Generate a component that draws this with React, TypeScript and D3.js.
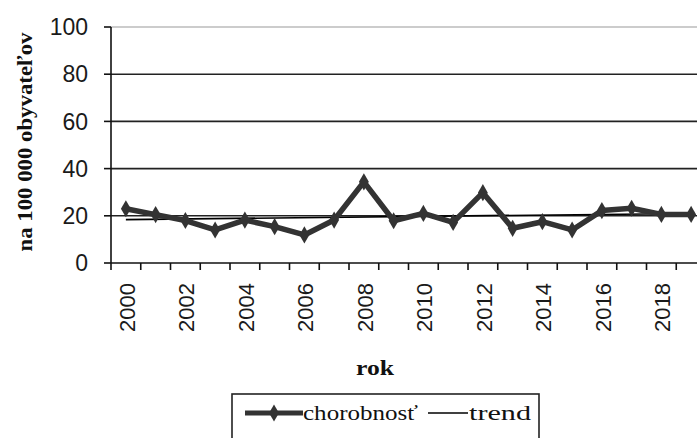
import * as d3 from 'd3';

const years = d3.range(2000, 2020).map(String);
const chorobnost = [23, 20.5, 18, 14, 18.2, 15.4, 11.9, 18.2, 34.4, 17.9, 21, 17.2, 29.8, 14.7, 17.5, 14, 22.2, 23.2, 20.6, 20.6];
const trendEnds = [18.4, 21.0];
const yTicks = [0, 20, 40, 60, 80, 100];
const xLabels = years.filter((_, i) => i % 2 === 0);

const width = 697;
const height = 438;
const left = 111;
const right = 706;
const top = 27;
const bottom = 263;

export default function App() {
  const x = d3.scaleBand<string>().domain(years).range([left, right]).padding(0);
  const y = d3.scaleLinear().domain([0, 100]).range([bottom, top]);
  const bw = x.bandwidth();
  const cx = (yr: string) => (x(yr) as number) + bw / 2;

  const line = d3
    .line<number>()
    .x((_, i) => cx(years[i]))
    .y((d) => y(d));

  const first = years[0];
  const last = years[years.length - 1];
  const diamond = d3.symbol(d3.symbolDiamond, 85)() ?? '';

  const serif = '"Liberation Serif", "Times New Roman", serif';
  const sans = '"Liberation Sans", Arial, sans-serif';

  return (
    <svg
      width={width}
      height={height}
      style={{ position: 'absolute', left: 0, top: 0, background: '#fff' }}>
      {/* grid */}
      {yTicks.slice(1).map((t) => (
        <line
          key={t}
          x1={left}
          x2={width}
          y1={y(t)}
          y2={y(t)}
          stroke={t === 100 ? '#999' : '#222'}
          strokeWidth={t === 100 ? 1.2 : 1.6}
        />
      ))}
      {/* y axis */}
      <line x1={left} x2={left} y1={top} y2={bottom} stroke="#111" strokeWidth={1.6} />
      {yTicks.map((t) => (
        <g key={t}>
          <line x1={left - 7} x2={left} y1={y(t)} y2={y(t)} stroke="#111" strokeWidth={1.6} />
          <text
            x={left - 23}
            y={y(t)}
            dy="0.36em"
            textAnchor="end"
            fontFamily={sans}
            fontSize={23}
            fill="#1a1a1a">
            {t}
          </text>
        </g>
      ))}
      {/* x axis */}
      <line x1={left} x2={width} y1={bottom} y2={bottom} stroke="#111" strokeWidth={1.6} />
      {d3.range(years.length + 1).map((i) => (
        <line
          key={i}
          x1={left + i * bw}
          x2={left + i * bw}
          y1={bottom}
          y2={bottom + 7}
          stroke="#111"
          strokeWidth={1.6}
        />
      ))}
      {xLabels.map((yr) => (
        <text
          key={yr}
          transform={`translate(${cx(yr) + 1},${283}) rotate(-90)`}
          textAnchor="end"
          dy="0.36em"
          fontFamily={sans}
          fontSize={22}
          fill="#1a1a1a">
          {yr}
        </text>
      ))}
      {/* trend */}
      <line
        x1={cx(first)}
        x2={cx(last)}
        y1={y(trendEnds[0])}
        y2={y(trendEnds[1])}
        stroke="#000"
        strokeWidth={1.6}
      />
      {/* series */}
      <path d={line(chorobnost) ?? ''} fill="none" stroke="#333" strokeWidth={5.5} strokeLinejoin="round" />
      {chorobnost.map((v, i) => (
        <path key={i} d={diamond} transform={`translate(${cx(years[i])},${y(v)})`} fill="#333" />
      ))}
      {/* axis titles */}
      <text
        transform={`translate(${32},${142}) rotate(-90)`}
        textAnchor="middle"
        fontFamily={serif}
        fontWeight="bold"
        fontSize={22}
        textLength={219}
        lengthAdjust="spacingAndGlyphs"
        fill="#111">
        na 100 000 obyvateľov
      </text>
      <text
        x={356}
        y={375}
        fontFamily={serif}
        fontWeight="bold"
        fontSize={22}
        textLength={38}
        lengthAdjust="spacingAndGlyphs"
        fill="#111">
        rok
      </text>
      {/* legend */}
      <rect x={232} y={394} width={307} height={60} fill="#fff" stroke="#222" strokeWidth={1.6} />
      <line x1={245} x2={303} y1={413} y2={413} stroke="#333" strokeWidth={5} />
      <path d={diamond} transform="translate(274,413)" fill="#333" />
      <text
        x={303}
        y={420}
        fontFamily={serif}
        fontSize={22}
        textLength={115}
        lengthAdjust="spacingAndGlyphs"
        fill="#111">
        chorobnosť
      </text>
      <line x1={428} x2={468} y1={413} y2={413} stroke="#000" strokeWidth={1.6} />
      <text
        x={469}
        y={420}
        fontFamily={serif}
        fontSize={22}
        textLength={62}
        lengthAdjust="spacingAndGlyphs"
        fill="#111">
        trend
      </text>
    </svg>
  );
}
